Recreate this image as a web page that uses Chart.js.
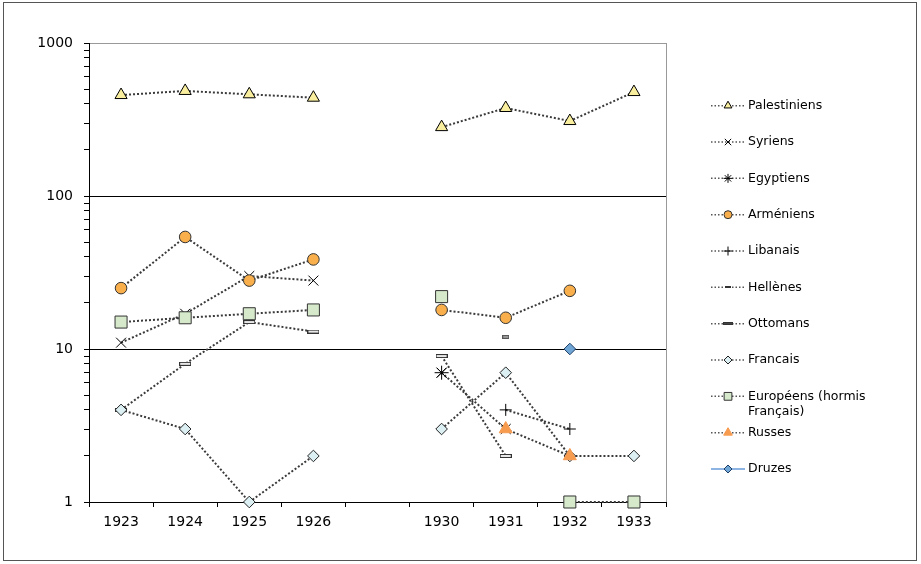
<!DOCTYPE html>
<html><head><meta charset="utf-8">
<script src="https://cdn.jsdelivr.net/npm/chart.js@4"></script>
<style>html,body{margin:0;padding:0;background:#fff}#wrap{position:relative;width:921px;height:564px}</style>
</head><body><div id="wrap"><canvas id="c" width="921" height="564"></canvas></div>
<script>
const categories = ['1923','1924','1925','1926','','1930','1931','1932','1933'];
const yTickLabels = [1,10,100,1000];
const palestiniens = [457,486,462,439,null,282,376,309,478];
const syriens = [11,17,30,28,null,7,3,null,null];
const egyptiens = [null,null,null,null,null,7,null,null,null];
const armeniens = [25,54,28,38.5,null,18,16,24,null];
const libanais = [null,null,null,null,null,null,4,3,null];
const hellenes = [null,null,15.6,null,null,null,12,null,null];
const ottomans = [4,8,15,13,null,9,2,null,null];
const francais = [4,3,1,2,null,3,7,2,2];
const europeens = [15,16,17,18,null,22,null,1,1];
const russes = [null,null,null,null,null,null,3,2,null];
const druzes = [null,null,null,null,null,null,null,10,null];
const seriesNames = ['Palestiniens','Syriens','Egyptiens','Arméniens','Libanais','Hellènes','Ottomans','Francais',['Européens (hormis','Français)'],'Russes','Druzes'];

function dashImg(w,h,fill,stroke){
  const c=document.createElement('canvas');c.width=w;c.height=h;
  const x=c.getContext('2d');x.fillStyle=fill;x.fillRect(0,0,w,h);
  x.strokeStyle=stroke;x.lineWidth=1;x.strokeRect(0.5,0.5,w-1,h-1);return c;
}
const ottoImg = dashImg(12,4,'#e8e8e8','#333');
const hellImg = dashImg(7,4,'#999','#555');
const ottoLeg = dashImg(10,3,'#444','#333');
const hellLeg = dashImg(6,2,'#333','#333');

const DOT = '#3a3a3a';
function mk(i, data, o){
  return Object.assign({
    label: Array.isArray(seriesNames[i]) ? seriesNames[i].join(' ') : seriesNames[i],
    data: data, borderColor: DOT, borderWidth: 2, borderDash: [2,2],
    pointBorderColor: '#000', pointBorderWidth: 1, pointBackgroundColor: '#fff',
    spanGaps: false, clip: false, tension: 0, fill: false, order: 11 - i
  }, o);
}
const datasets = [
  mk(0, palestiniens, {pointStyle:'triangle', pointRadius:7, pointBackgroundColor:'#F8EE9E', legR:4.5}),
  mk(1, syriens, {pointStyle:'crossRot', pointRadius:7, legR:4.5}),
  mk(2, egyptiens, {pointStyle:'star', pointRadius:7, legR:4.5}),
  mk(3, armeniens, {pointStyle:'circle', pointRadius:5.8, pointBackgroundColor:'#F9B04C', pointBorderColor:'#333', legR:4}),
  mk(4, libanais, {pointStyle:'cross', pointRadius:6, legR:4.5}),
  mk(5, hellenes, {pointStyle:hellImg, legImg:hellLeg}),
  mk(6, ottomans, {pointStyle:ottoImg, legImg:ottoLeg}),
  mk(7, francais, {pointStyle:'rectRot', pointRadius:5.8, pointBackgroundColor:'#DCEFF3', pointBorderColor:'#222', legR:4}),
  mk(8, europeens, {pointStyle:'rect', pointRadius:8.5, pointBackgroundColor:'#D6EACB', pointBorderColor:'#333', legR:5.5}),
  mk(9, russes, {pointStyle:'triangle', pointRadius:7.5, pointBackgroundColor:'#F79B4F', pointBorderColor:'#F79B4F', legR:5}),
  mk(10, druzes, {pointStyle:'rectRot', pointRadius:5.8, pointBackgroundColor:'#6FA6D6', pointBorderColor:'#1F3F66', borderColor:'#8DB4E2', borderDash:[], legR:4, legSolid:true})
];

const framePlugin = {
  id:'frame',
  beforeDraw(chart){
    const ctx=chart.ctx; ctx.save();
    ctx.fillStyle='#fff'; ctx.fillRect(0,0,chart.width,chart.height);
    ctx.strokeStyle='#555'; ctx.lineWidth=1; ctx.strokeRect(3.5,2.5,913,558);
    ctx.restore();
  },
  beforeDatasetsDraw(chart){
    const a=chart.chartArea, ctx=chart.ctx; ctx.save();
    ctx.strokeStyle='#999'; ctx.lineWidth=1;
    ctx.beginPath(); ctx.moveTo(Math.round(a.right)+0.5,a.top); ctx.lineTo(Math.round(a.right)+0.5,a.bottom); ctx.stroke();
    ctx.restore();
  }
};

const legendPlugin = {
  id:'sideLegend',
  afterDraw(chart){
    const ctx=chart.ctx; const x0=711, x1=745, xm=728, xt=748, y0=105.7, dy=36.33;
    chart.data.datasets.forEach((ds,i)=>{
      const y = y0 + i*dy;
      ctx.save();
      ctx.strokeStyle = ds.legSolid ? ds.borderColor : '#555';
      ctx.lineWidth = ds.legSolid ? 2 : 1.5;
      ctx.setLineDash(ds.legSolid ? [] : [1.5,2]);
      ctx.beginPath(); ctx.moveTo(x0,y); ctx.lineTo(x1,y); ctx.stroke();
      ctx.setLineDash([]);
      if (ds.legImg) {
        ctx.drawImage(ds.legImg, Math.round(xm-ds.legImg.width/2), Math.round(y-ds.legImg.height/2));
      } else {
        ctx.fillStyle = ds.pointBackgroundColor; ctx.strokeStyle = ds.pointBorderColor; ctx.lineWidth = 1;
        Chart.helpers.drawPoint(ctx, {pointStyle: ds.pointStyle, radius: ds.legR, rotation: 0, borderWidth: 1}, xm, y);
      }
      ctx.fillStyle='#000'; ctx.font='12.5px "DejaVu Sans"'; ctx.textBaseline='middle'; ctx.textAlign='left';
      const nm = seriesNames[i];
      if (Array.isArray(nm)) nm.forEach((t,k)=>ctx.fillText(t, xt, y + k*15.6));
      else ctx.fillText(nm, xt, y);
      ctx.restore();
    });
  }
};

new Chart(document.getElementById('c'), {
  type:'line',
  data:{ labels: categories, datasets: datasets },
  options:{
    responsive:false, animation:false, devicePixelRatio:1,
    layout:{ padding:{ top:43, right:255, bottom:0, left:0 } },
    plugins:{ legend:{display:false}, tooltip:{enabled:false} },
    scales:{
      x:{ type:'category', offset:true,
        grid:{ offset:true, drawOnChartArea:false, tickLength:5, color:'#000', tickColor:'#000' },
        border:{ color:'#000', width:1 },
        ticks:{ autoSkip:false, maxRotation:0, padding:7, color:'#000', font:{ family:'DejaVu Sans', size:14 } },
        afterFit(s){ s.height = 62; }
      },
      y:{ type:'logarithmic', min:1, max:1000,
        afterBuildTicks(scale){
          const t=[]; for (let d=1; d<1000; d*=10) for (let k=1;k<10;k++) t.push({value:d*k, major:k===1});
          t.push({value:1000, major:true}); scale.ticks=t;
        },
        ticks:{ autoSkip:false, padding:11, color:'#000', font:{ family:'DejaVu Sans', size:14 },
          callback:(v)=> yTickLabels.includes(v) ? String(v) : '' },
        grid:{ drawOnChartArea:true, tickLength:5, tickColor:'#000', lineWidth:1,
          color:(c)=>{ const v=c.tick && c.tick.value; if (v===10||v===100) return '#000'; if (v===1000) return '#999'; return 'rgba(0,0,0,0)'; } },
        border:{ display:true, color:'#000', width:1 },
        afterFit(s){ s.width = 89; }
      }
    }
  },
  plugins:[framePlugin, legendPlugin]
});
</script></body></html>
